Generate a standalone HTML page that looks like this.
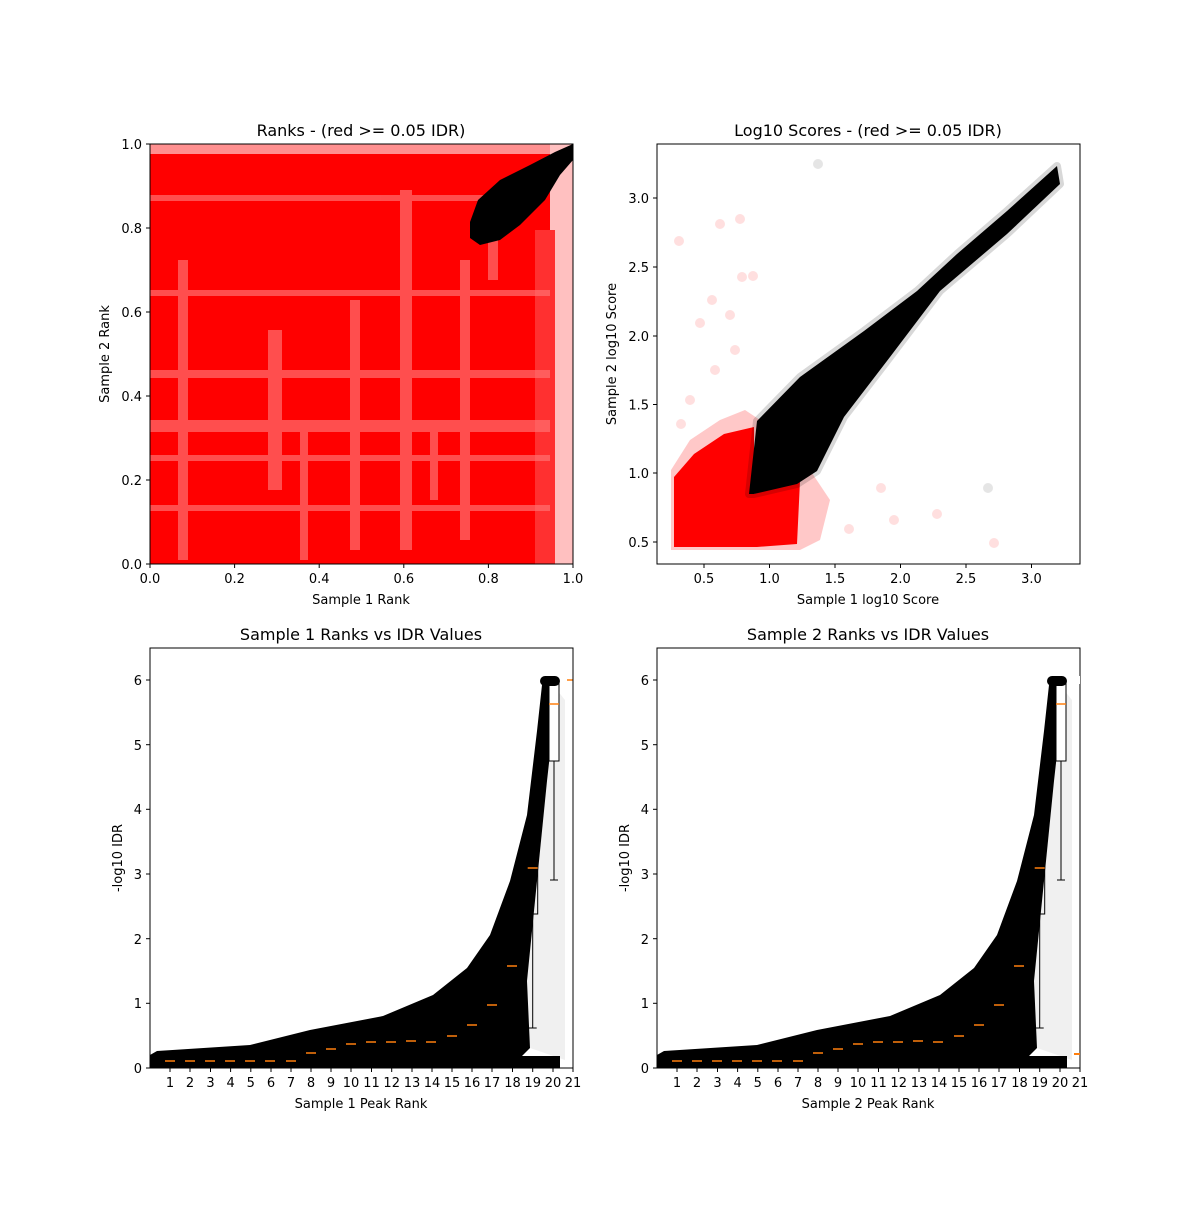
<!DOCTYPE html>
<html><head><style>
body{margin:0;background:#fff;}
svg text{font-family:"DejaVu Sans","Liberation Sans",sans-serif;fill:#000;}
</style></head><body>
<svg width="1200" height="1200" viewBox="0 0 1200 1200" xmlns="http://www.w3.org/2000/svg">
<rect width="1200" height="1200" fill="#fff"/>
<defs>
<clipPath id="c1"><rect x="150" y="144" width="423" height="420"/></clipPath>
<clipPath id="c2"><rect x="657" y="144" width="423" height="420"/></clipPath>
<clipPath id="c3"><rect x="150" y="648" width="423" height="420"/></clipPath>
</defs>

<!-- TOP LEFT -->
<g clip-path="url(#c1)">
<rect x="150" y="150" width="400" height="414" fill="#ff0000"/>
<rect x="150" y="144" width="423" height="10" fill="#ff9090"/>
<rect x="550" y="144" width="23" height="420" fill="#ffc0c0"/>
<rect x="535" y="230" width="20" height="334" fill="#ff3030"/>
<g fill="#ff7070" opacity="0.7">
<rect x="178" y="260" width="10" height="300"/><rect x="268" y="330" width="14" height="160"/>
<rect x="300" y="420" width="8" height="140"/><rect x="350" y="300" width="10" height="250"/>
<rect x="400" y="190" width="12" height="360"/><rect x="430" y="420" width="8" height="80"/>
<rect x="460" y="260" width="10" height="280"/><rect x="488" y="200" width="10" height="80"/>
<rect x="150" y="420" width="400" height="12"/><rect x="150" y="370" width="400" height="8"/>
<rect x="150" y="290" width="400" height="6"/><rect x="150" y="455" width="400" height="6"/>
<rect x="150" y="505" width="400" height="6"/><rect x="150" y="195" width="380" height="6"/>
</g>
<polygon points="470,222 478,200 500,180 530,165 555,152 573,144 573,160 560,175 545,200 520,225 500,240 480,245 470,238" fill="#000"/>
</g>
<rect x="150" y="144" width="423" height="420" fill="none" stroke="#000" stroke-width="1"/>
<g font-size="13" text-anchor="middle">
<text x="150" y="583">0.0</text><text x="234.6" y="583">0.2</text><text x="319.2" y="583">0.4</text><text x="403.8" y="583">0.6</text><text x="488.4" y="583">0.8</text><text x="573" y="583">1.0</text>
</g>
<g stroke="#000"><line x1="150" y1="564" x2="150" y2="568"/><line x1="234.6" y1="564" x2="234.6" y2="568"/><line x1="319.2" y1="564" x2="319.2" y2="568"/><line x1="403.8" y1="564" x2="403.8" y2="568"/><line x1="488.4" y1="564" x2="488.4" y2="568"/><line x1="573" y1="564" x2="573" y2="568"/>
<line x1="146" y1="564" x2="150" y2="564"/><line x1="146" y1="480" x2="150" y2="480"/><line x1="146" y1="396" x2="150" y2="396"/><line x1="146" y1="312" x2="150" y2="312"/><line x1="146" y1="228" x2="150" y2="228"/><line x1="146" y1="144" x2="150" y2="144"/></g>
<g font-size="13" text-anchor="end">
<text x="142" y="569">0.0</text><text x="142" y="485">0.2</text><text x="142" y="401">0.4</text><text x="142" y="317">0.6</text><text x="142" y="233">0.8</text><text x="142" y="149">1.0</text>
</g>
<text x="361" y="604" font-size="13" text-anchor="middle">Sample 1 Rank</text>
<text x="109" y="354" font-size="13" text-anchor="middle" transform="rotate(-90 109 354)">Sample 2 Rank</text>
<text x="361" y="136" font-size="16" text-anchor="middle">Ranks - (red &gt;= 0.05 IDR)</text>

<!-- TOP RIGHT -->
<g clip-path="url(#c2)">
<polygon points="671,550 671,470 690,440 720,420 745,410 760,420 810,470 830,500 820,540 800,550" fill="#ffc8c8"/>
<polygon points="674,547 674,477 694,454 724,434 754,427 754,494 800,481 797,544 757,547" fill="#ff0000"/>
<g fill="#000" opacity="0.15" stroke="#000" stroke-width="8" stroke-linejoin="round">
<polygon points="749,494 757,421 800,377 864,331 917,291 957,254 1007,211 1057,166 1060,184 1007,234 940,291 890,357 844,417 817,471 797,484 754,494"/>
</g>
<polygon points="749,494 757,421 800,377 864,331 917,291 957,254 1007,211 1057,166 1060,184 1007,234 940,291 890,357 844,417 817,471 797,484 754,494" fill="#000"/>
<g fill="#ff0000" opacity="0.12"><circle cx="679" cy="241" r="5"/><circle cx="720" cy="224" r="5"/><circle cx="740" cy="219" r="5"/><circle cx="742" cy="277" r="5"/><circle cx="753" cy="276" r="5"/><circle cx="712" cy="300" r="5"/><circle cx="730" cy="315" r="5"/><circle cx="700" cy="323" r="5"/><circle cx="735" cy="350" r="5"/><circle cx="715" cy="370" r="5"/><circle cx="690" cy="400" r="5"/><circle cx="681" cy="424" r="5"/><circle cx="881" cy="488" r="5"/><circle cx="937" cy="514" r="5"/><circle cx="849" cy="529" r="5"/><circle cx="994" cy="543" r="5"/><circle cx="894" cy="520" r="5"/></g>
<g fill="#000" opacity="0.1"><circle cx="818" cy="164" r="5"/><circle cx="988" cy="488" r="5"/></g>
</g>
<rect x="657" y="144" width="423" height="420" fill="none" stroke="#000"/>
<g stroke="#000"><line x1="704" y1="564" x2="704" y2="568"/><line x1="769.5" y1="564" x2="769.5" y2="568"/><line x1="835" y1="564" x2="835" y2="568"/><line x1="900.5" y1="564" x2="900.5" y2="568"/><line x1="966" y1="564" x2="966" y2="568"/><line x1="1031.5" y1="564" x2="1031.5" y2="568"/>
<line x1="653" y1="542" x2="657" y2="542"/><line x1="653" y1="473" x2="657" y2="473"/><line x1="653" y1="404.5" x2="657" y2="404.5"/><line x1="653" y1="336" x2="657" y2="336"/><line x1="653" y1="267" x2="657" y2="267"/><line x1="653" y1="198" x2="657" y2="198"/></g>
<g font-size="13" text-anchor="middle"><text x="704" y="583">0.5</text><text x="769.5" y="583">1.0</text><text x="835" y="583">1.5</text><text x="900.5" y="583">2.0</text><text x="966" y="583">2.5</text><text x="1031.5" y="583">3.0</text></g>
<g font-size="13" text-anchor="end"><text x="649" y="547">0.5</text><text x="649" y="478">1.0</text><text x="649" y="409.5">1.5</text><text x="649" y="341">2.0</text><text x="649" y="272">2.5</text><text x="649" y="203">3.0</text></g>
<text x="868" y="604" font-size="13" text-anchor="middle">Sample 1 log10 Score</text>
<text x="616" y="354" font-size="13" text-anchor="middle" transform="rotate(-90 616 354)">Sample 2 log10 Score</text>
<text x="868" y="136" font-size="16" text-anchor="middle">Log10 Scores - (red &gt;= 0.05 IDR)</text>

<!-- BOTTOM (two panels) -->
<g id="bl">
<g clip-path="url(#c3)">
<polygon points="530,1048 527,981 537,881 547,781 557,690 565,700 565,1060" fill="#000" opacity="0.06"/>
<polygon points="150,1055 157,1051 250,1045 310,1030 383,1016 433,995 467,968 490,935 510,881 527,815 537,731 542,685 548,678 557,680 556,700 547,781 537,881 527,981 530,1048 520,1058 150,1068" fill="#000"/>
<rect x="150" y="1056" width="410" height="12" fill="#000"/>
<g stroke="#000" fill="none" stroke-width="1">
<rect x="527.7" y="837" width="10" height="77"/><line x1="532.7" y1="914" x2="532.7" y2="1028"/><line x1="528.7" y1="1028" x2="536.7" y2="1028"/>
<rect x="549" y="680" width="10" height="81" fill="#fff"/><line x1="554" y1="761" x2="554" y2="880"/><line x1="550" y1="880" x2="558" y2="880"/>
</g>
<rect x="540" y="676" width="20" height="10" rx="5" fill="#000"/>
<g stroke="#ff7f0e" stroke-width="1.5">
<line x1="165" y1="1061" x2="175" y2="1061"/><line x1="185" y1="1061" x2="195" y2="1061"/><line x1="205" y1="1061" x2="215" y2="1061"/><line x1="225" y1="1061" x2="235" y2="1061"/><line x1="245" y1="1061" x2="255" y2="1061"/><line x1="265" y1="1061" x2="275" y2="1061"/><line x1="286" y1="1061" x2="296" y2="1061"/><line x1="306" y1="1053" x2="316" y2="1053"/><line x1="326" y1="1049" x2="336" y2="1049"/><line x1="346" y1="1044" x2="356" y2="1044"/><line x1="366" y1="1042" x2="376" y2="1042"/><line x1="386" y1="1042" x2="396" y2="1042"/><line x1="406" y1="1041" x2="416" y2="1041"/><line x1="426" y1="1042" x2="436" y2="1042"/><line x1="447" y1="1036" x2="457" y2="1036"/><line x1="467" y1="1025" x2="477" y2="1025"/><line x1="487" y1="1005" x2="497" y2="1005"/><line x1="507" y1="966" x2="517" y2="966"/><line x1="527.7" y1="868" x2="537.7" y2="868"/><line x1="549" y1="704" x2="559" y2="704"/><line x1="567" y1="680" x2="573" y2="680"/></g>
</g>
<rect x="150" y="648" width="423" height="420" fill="none" stroke="#000"/>
<g stroke="#000"><line x1="170" y1="1068" x2="170" y2="1072"/><line x1="190" y1="1068" x2="190" y2="1072"/><line x1="210.5" y1="1068" x2="210.5" y2="1072"/><line x1="230.6" y1="1068" x2="230.6" y2="1072"/><line x1="250.8" y1="1068" x2="250.8" y2="1072"/><line x1="271" y1="1068" x2="271" y2="1072"/><line x1="291" y1="1068" x2="291" y2="1072"/><line x1="311" y1="1068" x2="311" y2="1072"/><line x1="331" y1="1068" x2="331" y2="1072"/><line x1="351" y1="1068" x2="351" y2="1072"/><line x1="371.5" y1="1068" x2="371.5" y2="1072"/><line x1="391.7" y1="1068" x2="391.7" y2="1072"/><line x1="412" y1="1068" x2="412" y2="1072"/><line x1="432" y1="1068" x2="432" y2="1072"/><line x1="452" y1="1068" x2="452" y2="1072"/><line x1="472" y1="1068" x2="472" y2="1072"/><line x1="492" y1="1068" x2="492" y2="1072"/><line x1="512.5" y1="1068" x2="512.5" y2="1072"/><line x1="532.7" y1="1068" x2="532.7" y2="1072"/><line x1="553" y1="1068" x2="553" y2="1072"/><line x1="573" y1="1068" x2="573" y2="1072"/>
<line x1="146" y1="1068" x2="150" y2="1068"/><line x1="146" y1="1003.3" x2="150" y2="1003.3"/><line x1="146" y1="938.7" x2="150" y2="938.7"/><line x1="146" y1="874" x2="150" y2="874"/><line x1="146" y1="809.3" x2="150" y2="809.3"/><line x1="146" y1="744.7" x2="150" y2="744.7"/><line x1="146" y1="680" x2="150" y2="680"/></g>
<g font-size="13" text-anchor="middle"><text x="170" y="1087">1</text><text x="190" y="1087">2</text><text x="210.5" y="1087">3</text><text x="230.6" y="1087">4</text><text x="250.8" y="1087">5</text><text x="271" y="1087">6</text><text x="291" y="1087">7</text><text x="311" y="1087">8</text><text x="331" y="1087">9</text><text x="351" y="1087">10</text><text x="371.5" y="1087">11</text><text x="391.7" y="1087">12</text><text x="412" y="1087">13</text><text x="432" y="1087">14</text><text x="452" y="1087">15</text><text x="472" y="1087">16</text><text x="492" y="1087">17</text><text x="512.5" y="1087">18</text><text x="532.7" y="1087">19</text><text x="553" y="1087">20</text><text x="573" y="1087">21</text></g>
<g font-size="13" text-anchor="end"><text x="142" y="1073">0</text><text x="142" y="1008">1</text><text x="142" y="944">2</text><text x="142" y="879">3</text><text x="142" y="814">4</text><text x="142" y="750">5</text><text x="142" y="685">6</text></g>
</g>
<text x="361" y="1108" font-size="13" text-anchor="middle">Sample 1 Peak Rank</text>
<text x="122" y="858" font-size="13" text-anchor="middle" transform="rotate(-90 122 858)">-log10 IDR</text>
<text x="361" y="640" font-size="16" text-anchor="middle">Sample 1 Ranks vs IDR Values</text>

<use href="#bl" transform="translate(507 0)"/>
<rect x="1073" y="676" width="7" height="8" fill="#fff"/>
<line x1="1074" y1="1054" x2="1080" y2="1054" stroke="#ff7f0e" stroke-width="2"/>
<text x="868" y="1108" font-size="13" text-anchor="middle">Sample 2 Peak Rank</text>
<text x="629" y="858" font-size="13" text-anchor="middle" transform="rotate(-90 629 858)">-log10 IDR</text>
<text x="868" y="640" font-size="16" text-anchor="middle">Sample 2 Ranks vs IDR Values</text>
</svg>
</body></html>
